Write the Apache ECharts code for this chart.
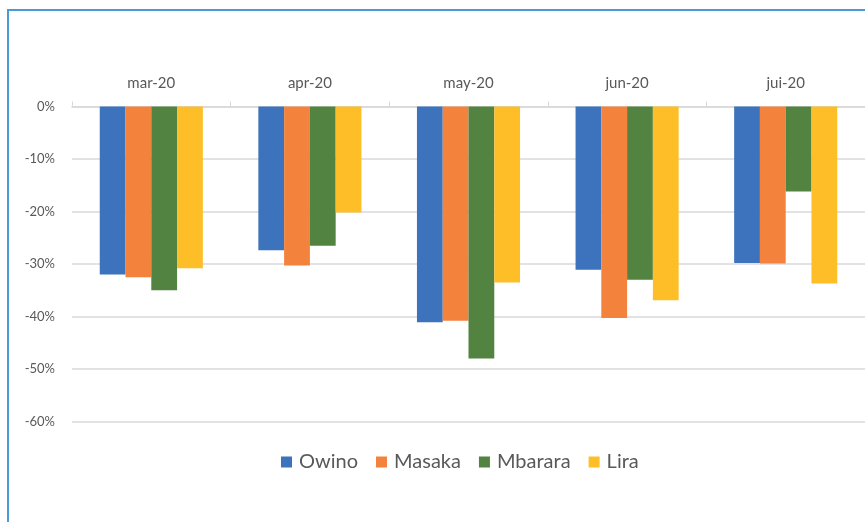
<!DOCTYPE html>
<html>
<head>
<meta charset="utf-8">
<script src="https://cdn.jsdelivr.net/npm/echarts@6/dist/echarts.min.js"></script>
<style>
html,body{margin:0;padding:0;background:#fff;}
#chart{width:865px;height:522px;}
</style>
</head>
<body>
<div id="chart"></div>
<script>
const categories = ['mar-20', 'apr-20', 'may-20', 'jun-20', 'jui-20'];
const owino   = [-32.0, -27.4, -41.1, -31.1, -29.8];
const masaka  = [-32.5, -30.3, -40.8, -40.3, -29.9];
const mbarara = [-35.0, -26.5, -48.0, -33.0, -16.2];
const lira    = [-30.8, -20.2, -33.5, -36.9, -33.7];
const seriesNames = ['Owino', 'Masaka', 'Mbarara', 'Lira'];
const seriesData = [owino, masaka, mbarara, lira];
const colors = ['#3d72bc', '#f2823c', '#528340', '#fdbe27'];

const FONT = 'Lato';
const chart = echarts.init(document.getElementById('chart'));
chart.setOption({
  animation: false,
  textStyle: { fontFamily: FONT },
  graphic: [{
    type: 'rect',
    shape: { x: 8, y: 10, width: 1200, height: 1200 },
    style: { fill: 'none', stroke: '#4a9ad8', lineWidth: 2 },
    silent: true
  }],
  grid: { left: 72, top: 106.5, width: 800, height: 315 },
  legend: {
    data: seriesNames,
    top: 447,
    left: 276,
    icon: 'rect',
    itemWidth: 11,
    itemHeight: 11,
    itemGap: 18,
    textStyle: { fontFamily: FONT, fontSize: 20, color: '#595959', padding: [0, 0, 0, 2] }
  },
  xAxis: {
    type: 'category',
    position: 'top',
    data: categories,
    axisLine: { lineStyle: { color: '#d9d9d9', width: 1.5 } },
    axisTick: { show: true, length: 5, lineStyle: { color: '#d9d9d9' } },
    axisLabel: { fontFamily: FONT, fontSize: 15, color: '#595959', margin: 16 }
  },
  yAxis: {
    type: 'value',
    min: -60,
    max: 0,
    interval: 10,
    axisLine: { show: false },
    axisTick: { show: false },
    splitLine: { lineStyle: { color: '#d9d9d9', width: 1.5 } },
    axisLabel: { fontFamily: FONT, fontSize: 13, color: '#595959', margin: 17, formatter: '{value}%' }
  },
  series: seriesNames.map((n, i) => ({
    name: n,
    type: 'bar',
    data: seriesData[i],
    barGap: '0%',
    barCategoryGap: '35%',
    itemStyle: { color: colors[i] }
  }))
});
</script>
</body>
</html>
